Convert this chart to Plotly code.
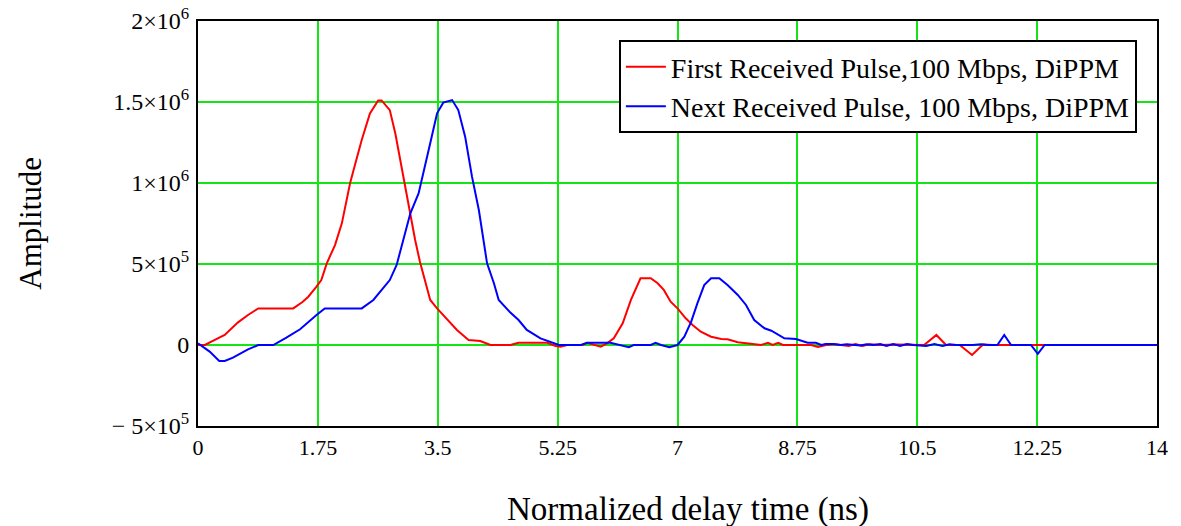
import plotly.graph_objects as go

# ---- data ----
red_t = [0, 0.10, 0.31, 0.39, 0.58, 0.73, 0.88, 1.39, 1.53, 1.61, 1.73, 1.80, 1.88, 2.00, 2.10,
         2.22, 2.29, 2.39, 2.51, 2.63, 2.68, 2.80, 2.88, 2.97, 3.07, 3.17, 3.24, 3.32, 3.39, 3.49,
         3.58, 3.68, 3.78, 3.95, 4.12, 4.27, 4.41, 4.56, 4.68, 5.10, 5.22, 5.29, 5.39, 5.61, 5.68,
         5.78, 5.88, 5.97, 6.07, 6.20, 6.32, 6.46, 6.61, 6.71, 6.80, 6.90, 7.00, 7.12, 7.22, 7.34,
         7.49, 7.64, 7.73, 7.88, 8.03, 8.22, 8.32, 8.39, 8.47, 8.54, 8.80, 8.95, 9.05, 9.17, 9.30,
         9.40, 9.50, 9.60, 9.70, 9.80, 9.95, 10.20, 10.44, 10.60, 10.78, 10.92, 11.12, 11.30, 11.46,
         11.60, 12.40, 14.0]
red_amp = [0, 0, 45000, 62000, 138000, 185000, 226000, 226000, 267000, 298000, 360000, 401000,
           504000, 617000, 751000, 998000, 1110000, 1265000, 1430000, 1510000, 1510000, 1450000,
           1307000, 1100000, 854000, 648000, 514000, 381000, 278000, 226000, 185000, 144000, 93000,
           31000, 25000, 0, 0, 0, 14000, 14000, -6000, -10000, 0, 0, 14000, 0, -10000, 10000, 41000,
           134000, 278000, 412000, 412000, 381000, 340000, 267000, 226000, 165000, 123000, 82000,
           51000, 37000, 35000, 17000, 10000, 0, 14000, 0, 14000, 0, 0, 0, -12000, 0, 4000, 0,
           -6000, 6000, -6000, 5000, 0, 3000, 3000, 0, 62000, 0, 0, -62000, 3000, 0, 0, 0]

blue_t = [0, 0.17, 0.31, 0.39, 0.51, 0.73, 0.88, 1.10, 1.29, 1.49, 1.73, 1.85, 2.39, 2.56, 2.80,
          2.90, 3.10, 3.22, 3.39, 3.49, 3.58, 3.71, 3.80, 3.90, 4.00, 4.10, 4.22, 4.32, 4.39, 4.45,
          4.56, 4.68, 4.80, 5.00, 5.15, 5.27, 5.59, 5.68, 6.02, 6.17, 6.29, 6.36, 6.61, 6.68, 6.76,
          6.88, 7.00, 7.10, 7.20, 7.29, 7.39, 7.49, 7.61, 7.73, 7.88, 8.00, 8.12, 8.27, 8.37, 8.56,
          8.73, 8.90, 9.02, 9.10, 9.16, 9.28, 9.38, 9.47, 9.60, 9.67, 9.76, 9.86, 9.96, 10.05,
          10.15, 10.25, 10.35, 10.44, 10.63, 10.75, 10.87, 10.97, 11.07, 11.31, 11.43, 11.53,
          11.67, 11.77, 11.87, 12.16, 12.26, 12.36, 14.0]
blue_amp = [10000, -41000, -99000, -99000, -78000, -27000, 0, 0, 45000, 97000, 185000, 226000,
            226000, 278000, 401000, 494000, 813000, 936000, 1245000, 1430000, 1496000, 1512000,
            1450000, 1286000, 1039000, 833000, 504000, 381000, 278000, 250000, 200000, 154000,
            93000, 41000, 20000, 0, 0, 14000, 14000, 0, -14000, 0, 0, 14000, 0, -14000, 0, 51000,
            144000, 257000, 370000, 412000, 412000, 370000, 309000, 247000, 154000, 103000, 88000,
            41000, 37000, 14000, 14000, 0, 6000, 6000, 0, 5000, 0, -3000, 5000, 0, 6000, -6000,
            6000, -6000, 6000, 0, -6000, 6000, -6000, 5000, 0, 0, 5000, 0, 0, 62000, 0, 0, -55000,
            0, 0]

x_ticks = [0, 1.75, 3.5, 5.25, 7, 8.75, 10.5, 12.25, 14]
x_tick_text = ["0", "1.75", "3.5", "5.25", "7", "8.75", "10.5", "12.25", "14"]
y_ticks = [2e6, 1.5e6, 1e6, 5e5, 0, -5e5]
y_tick_text = ["2×10<sup>6</sup>", "1.5×10<sup>6</sup>", "1×10<sup>6</sup>",
               "5×10<sup>5</sup>", "0", "− 5×10<sup>5</sup>"]

series_names = ["First Received Pulse,100 Mbps, DiPPM", "Next Received Pulse, 100 Mbps, DiPPM"]
x_title = "Normalized delay time (ns)"
y_title = "Amplitude"

FONT = "Liberation Serif"
GRID = "#14e614"

fig = go.Figure()
fig.add_trace(go.Scatter(x=red_t, y=red_amp, mode="lines", name=series_names[0],
                         line=dict(color="#ff0000", width=2)))
fig.add_trace(go.Scatter(x=blue_t, y=blue_amp, mode="lines", name=series_names[1],
                         line=dict(color="#0000ff", width=2)))

# the page body adds an 8px offset, margins below compensate for it
fig.update_layout(
    width=1181, height=526,
    margin=dict(l=190, r=32, t=13, b=108, autoexpand=False),
    paper_bgcolor="white", plot_bgcolor="white",
    font=dict(family=FONT, color="black", size=22),
    showlegend=True,
    legend=dict(x=0.979, y=0.953, xanchor="right", yanchor="top",
                bgcolor="white", bordercolor="black", borderwidth=2,
                font=dict(family=FONT, size=28, color="black"),
                itemwidth=40, entrywidth=570, entrywidthmode="pixels"),
    annotations=[
        dict(text=x_title, xref="paper", yref="paper", x=0.511, y=-0.207,
             xanchor="center", yanchor="middle", showarrow=False,
             font=dict(family=FONT, size=33, color="black")),
        dict(text=y_title, xref="paper", yref="paper", x=-0.175, y=0.50,
             xanchor="center", yanchor="middle", showarrow=False, textangle=-90,
             font=dict(family=FONT, size=31, color="black")),
    ],
)
fig.update_xaxes(range=[0, 14], tickvals=x_ticks, ticktext=x_tick_text,
                 showgrid=True, gridcolor=GRID, gridwidth=2, zeroline=False,
                 showline=True, linecolor="black", linewidth=2, mirror=True,
                 ticks="", ticklabelstandoff=1, automargin=False,
                 ticklabeloverflow="allow",
                 tickfont=dict(family=FONT, size=22, color="black"))
fig.update_yaxes(range=[-5e5, 2e6], tickvals=y_ticks, ticktext=y_tick_text,
                 showgrid=True, gridcolor=GRID, gridwidth=2, zeroline=False,
                 showline=True, linecolor="black", linewidth=2, mirror=True,
                 ticks="", ticklabelstandoff=2, automargin=False,
                 ticklabeloverflow="allow",
                 tickfont=dict(family=FONT, size=24, color="black"))

fig.write_html("out.html")
